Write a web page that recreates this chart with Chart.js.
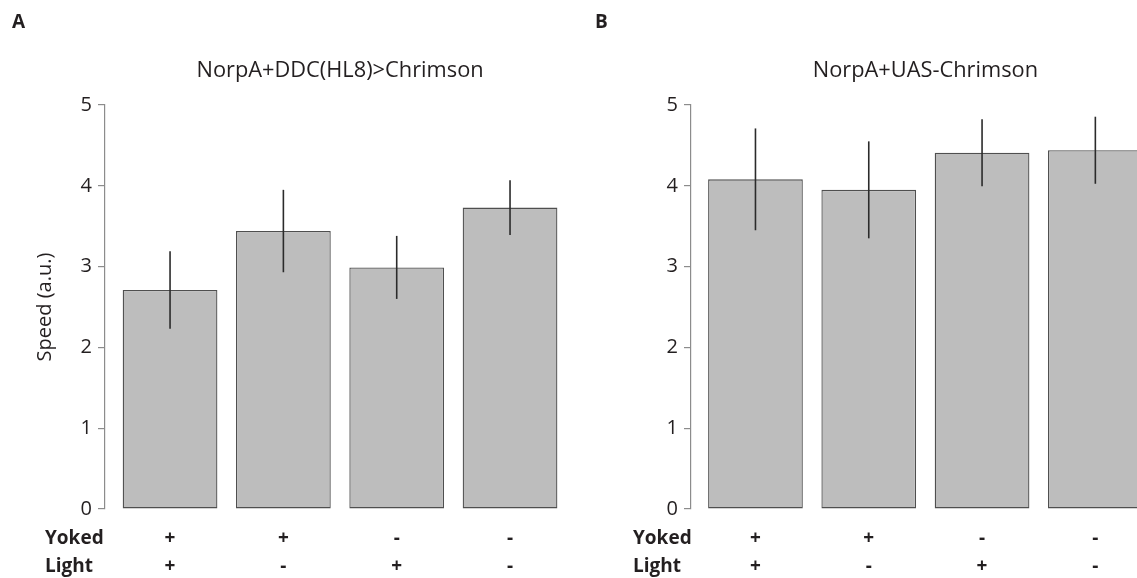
<!DOCTYPE html>
<html>
<head>
<meta charset="utf-8">
<title>Speed by condition</title>
<script src="https://cdn.jsdelivr.net/npm/chart.js@4.4.1/dist/chart.umd.min.js"></script>
<style>
  html, body { margin: 0; padding: 0; background: #fff; overflow: hidden; }
  #wrap { position: relative; width: 1137px; height: 578px; overflow: hidden; }
  canvas { position: absolute; top: 0; }
  #panelA { left: 0; }
  #panelB { left: 580px; }
</style>
</head>
<body>
<div id="wrap">
  <canvas id="panelA" width="580" height="578"></canvas>
  <canvas id="panelB" width="572" height="578"></canvas>
</div>
<script>
// condition rows printed under the bars
const rowNames = ['Yoked', 'Light'];
const yokedRow = ['+', '+', '-', '-'];
const lightRow = ['+', '-', '+', '-'];
const speedTicks = [0, 1, 2, 3, 4, 5];

// panel A
const headingA = 'NorpA+DDC(HL8)>Chrimson';
const meanA = [2.71, 3.44, 2.99, 3.73];
const errA = [0.48, 0.51, 0.39, 0.34];

// panel B
const headingB = 'NorpA+UAS-Chrimson';
const meanB = [4.08, 3.95, 4.41, 4.44];
const errB = [0.63, 0.60, 0.415, 0.415];

const FONT = '"Open Sans", "Noto Sans", sans-serif';
const INK = '#231f20';
const AXIS_GREY = '#8c8c8c';
const ROW_SIZE = 19;
const ROW_LINE = 28;
const ROW_PAD = 16;

// vertical error bar through the middle of each bar (no caps)
const errorBars = {
    id: 'errorBars',
    afterDatasetsDraw(chart, args, opts) {
        const { ctx, scales: { y } } = chart;
        const meta = chart.getDatasetMeta(0);
        const points = chart.data.datasets[0].data;
        ctx.save();
        ctx.strokeStyle = opts.color;
        ctx.lineWidth = opts.width;
        meta.data.forEach((bar, i) => {
            const m = points[i].y;
            const e = opts.values[i];
            ctx.beginPath();
            ctx.moveTo(bar.x, y.getPixelForValue(m - e));
            ctx.lineTo(bar.x, y.getPixelForValue(m + e));
            ctx.stroke();
        });
        ctx.restore();
    }
};

// panel letter, heading centred over the bars, and the row names on the left
const panelText = {
    id: 'panelText',
    afterDraw(chart, args, opts) {
        const { ctx, scales: { x } } = chart;
        ctx.save();
        ctx.fillStyle = INK;
        ctx.textBaseline = 'middle';

        ctx.textAlign = 'left';
        ctx.font = 'bold 19px ' + FONT;
        ctx.fillText(opts.letter, opts.letterX, 23);

        ctx.textAlign = 'center';
        ctx.font = '21.8px ' + FONT;
        ctx.fillText(opts.heading, x.getPixelForValue((1 + yokedRow.length) / 2), 71);

        ctx.textAlign = 'left';
        ctx.font = 'bold ' + ROW_SIZE + 'px ' + FONT;
        rowNames.forEach((name, i) => {
            ctx.fillText(name, opts.rowX, x.top + ROW_PAD + ROW_LINE / 2 + i * ROW_LINE);
        });
        ctx.restore();
    }
};

function makePanel(canvasId, cfg) {
    const ctx = document.getElementById(canvasId).getContext('2d');
    return new Chart(ctx, {
        type: 'bar',
        data: {
            datasets: [{
                data: cfg.means.map((v, i) => ({ x: i + 1, y: v })),
                backgroundColor: '#bdbdbd',
                borderColor: '#4f4f4f',
                borderWidth: 1.3,
                borderSkipped: false,
                categoryPercentage: 1,
                barPercentage: 0.836
            }]
        },
        options: {
            responsive: false,
            animation: false,
            layout: { padding: { top: 105, left: 0, right: cfg.padRight, bottom: 0 } },
            scales: {
                x: {
                    type: 'linear',
                    offset: false,
                    min: cfg.xMin,
                    max: 4.5,
                    afterBuildTicks: (scale) => {
                        scale.ticks = yokedRow.map((_, i) => ({ value: i + 1 }));
                    },
                    afterFit: (scale) => { scale.height = 69; },
                    grid: { display: false, drawTicks: false, offset: false },
                    border: { display: false },
                    ticks: {
                        autoSkip: false,
                        maxRotation: 0,
                        padding: ROW_PAD,
                        color: INK,
                        font: { family: FONT, size: ROW_SIZE, weight: 'bold', lineHeight: ROW_LINE / ROW_SIZE },
                        callback: (value, index) => [yokedRow[index], lightRow[index]]
                    }
                },
                y: {
                    min: 0,
                    max: 5,
                    afterBuildTicks: (scale) => {
                        scale.ticks = speedTicks.map(v => ({ value: v }));
                    },
                    afterFit: (scale) => { scale.width = cfg.yWidth; },
                    grid: {
                        display: true,
                        drawOnChartArea: false,
                        drawTicks: true,
                        tickLength: 7,
                        color: AXIS_GREY,
                        lineWidth: 1.2
                    },
                    border: { display: true, color: AXIS_GREY, width: 1.2 },
                    ticks: {
                        padding: 6,
                        color: INK,
                        font: { family: FONT, size: 20 }
                    },
                    title: {
                        display: !!cfg.yTitle,
                        text: cfg.yTitle,
                        color: INK,
                        font: { family: FONT, size: 20 },
                        padding: { top: 33, bottom: 0 }
                    }
                }
            },
            plugins: {
                legend: { display: false },
                tooltip: { enabled: false },
                errorBars: { values: cfg.errors, color: '#2b2b2b', width: 1.6 },
                panelText: { letter: cfg.letter, letterX: cfg.letterX, heading: cfg.heading, rowX: cfg.rowX }
            }
        },
        plugins: [errorBars, panelText]
    });
}

makePanel('panelA', {
    letter: 'A', letterX: 12, heading: headingA, rowX: 45,
    means: meanA, errors: errA, yTitle: 'Speed (a.u.)',
    yWidth: 105, xMin: 0.426, padRight: 13.3
});

makePanel('panelB', {
    letter: 'B', letterX: 15, heading: headingB, rowX: 53,
    means: meanB, errors: errB, yTitle: '',
    yWidth: 111, xMin: 0.431, padRight: 0
});
</script>
</body>
</html>
